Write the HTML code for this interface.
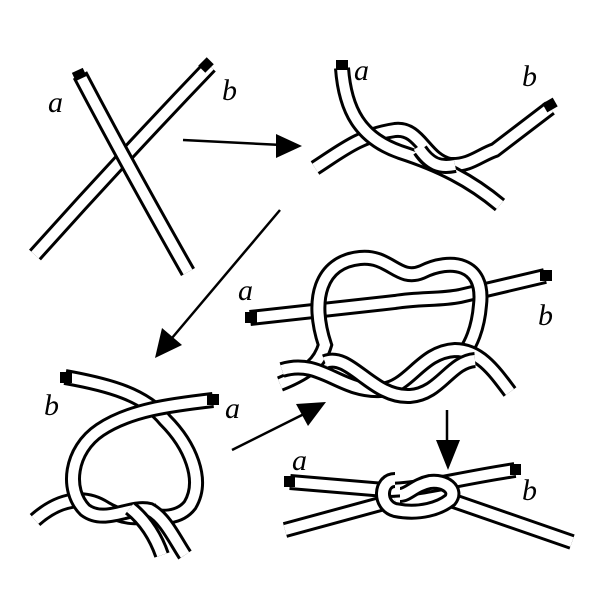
<!DOCTYPE html><html><head><style>body{margin:0;background:#fff}svg{display:block}
.o{fill:none;stroke:#000;stroke-width:16;stroke-linecap:butt}
.i{fill:none;stroke:#fff;stroke-width:10;stroke-linecap:butt}
.l{fill:none;stroke:#000;stroke-width:2.5}
text{font-family:"Liberation Serif",serif;font-style:italic;font-size:30px;fill:#000}
</style></head><body>
<svg width="600" height="600" viewBox="0 0 600 600">
<!-- panel 1 -->
<g>
<path class="o" d="M210,66 Q120,160 35,255"/><path class="i" d="M210,66 Q120,160 35,255"/>
<path class="o" d="M80,75 Q130,170 188,272"/><path class="i" d="M80,75 Q130,170 188,272"/>
<rect x="200" y="60" width="12" height="10" transform="rotate(-45 206 65)"/>
<rect x="73" y="70" width="12" height="9" transform="rotate(-25 79 74)"/>
<text x="48" y="112">a</text><text x="222" y="100">b</text>
</g>
<line class="l" x1="183" y1="140" x2="282" y2="145"/><polygon points="302,146 276,134 276,158"/>
<!-- panel 2 -->
<g>
<path class="o" d="M315,168 C340,152 360,135 395,130 C420,127 425,160 450,165 C470,166 480,155 495,150 L550,108"/><path class="i" d="M315,168 C340,152 360,135 395,130 C420,127 425,160 450,165 C470,166 480,155 495,150 L550,108"/>
<path class="o" d="M342,68 C345,110 360,138 400,152 C440,165 470,180 500,205"/><path class="i" d="M342,68 C345,110 360,138 400,152 C440,165 470,180 500,205"/>
<path class="o" d="M420,150 C430,165 440,168 455,165"/><path class="i" d="M418,147 C430,165 440,168 455,165"/>
<rect x="336" y="60" width="12" height="10"/><rect x="544" y="100" width="12" height="10" transform="rotate(-30 550 105)"/>
<text x="354" y="80">a</text><text x="522" y="86">b</text>
</g>
<line class="l" x1="280" y1="210" x2="172" y2="338"/><polygon points="155,358 162,328 182,345"/>
<!-- panel 3 -->
<g>
<path class="o" d="M250,318 L395,302 C420,298 440,300 460,296 L545,276"/><path class="i" d="M250,318 L395,302 C420,298 440,300 460,296 L545,276"/>
<path class="o" d="M280,384 C310,372 320,362 325,345 C310,300 320,262 360,258 C390,255 398,282 422,272 C450,258 485,262 480,305 C478,330 470,345 465,352"/><path class="i" d="M280,384 C310,372 320,362 325,345 C310,300 320,262 360,258 C390,255 398,282 422,272 C450,258 485,262 480,305 C478,330 470,345 465,352"/>
<path class="o" d="M282,370 C320,358 340,392 380,390 C410,388 420,352 455,350 C480,350 495,372 510,392"/><path class="i" d="M282,370 C320,358 340,392 380,390 C410,388 420,352 455,350 C480,350 495,372 510,392"/>
<path class="o" d="M325,362 C350,352 372,398 410,396 C440,394 450,362 475,360"/><path class="i" d="M325,362 C350,352 372,398 410,396 C440,394 450,362 475,360"/>
<rect x="245" y="312" width="12" height="11"/><rect x="540" y="270" width="12" height="11"/>
<text x="238" y="300">a</text><text x="538" y="325">b</text>
</g>
<!-- panel 4 -->
<g>
<path class="o" d="M65,377 C110,385 145,395 165,420 C190,445 205,480 190,505 C180,518 160,520 145,512"/><path class="i" d="M65,377 C110,385 145,395 165,420 C190,445 205,480 190,505 C180,518 160,520 145,512"/>
<path class="o" d="M35,520 C60,498 85,495 105,508 C125,520 145,520 160,510"/><path class="i" d="M35,520 C60,498 85,495 105,508 C125,520 145,520 160,510"/>
<path class="o" d="M213,400 C170,405 130,410 100,430 C70,450 65,490 85,510 C105,525 130,505 150,510 C165,518 175,540 185,555"/><path class="i" d="M213,400 C170,405 130,410 100,430 C70,450 65,490 85,510 C105,525 130,505 150,510 C165,518 175,540 185,555"/>
<path class="o" d="M130,508 C145,520 155,535 162,555"/><path class="i" d="M130,508 C145,520 155,535 162,555"/>
<rect x="60" y="372" width="12" height="11"/><rect x="207" y="394" width="12" height="11"/>
<text x="44" y="415">b</text><text x="225" y="418">a</text>
</g>
<line class="l" x1="232" y1="450" x2="306" y2="413"/><polygon points="326,402 296,404 308,426"/>
<line class="l" x1="447" y1="410" x2="447" y2="445"/><polygon points="436,440 460,440 448,470"/>
<!-- panel 5 -->
<g>
<path class="o" d="M285,530 L395,500"/><path class="i" d="M285,530 L395,500"/>
<path class="o" d="M445,498 L572,542"/><path class="i" d="M445,498 L572,542"/>
<path class="o" d="M290,482 L385,490 C420,490 450,480 515,470"/><path class="i" d="M290,482 L385,490 C420,490 450,480 515,470"/>
<path class="o" d="M395,480 C380,480 378,505 395,510 C420,515 440,508 450,500 C458,490 445,480 430,482 C415,485 408,495 400,495"/><path class="i" d="M395,480 C380,480 378,505 395,510 C420,515 440,508 450,500 C458,490 445,480 430,482 C415,485 408,495 400,495"/>
<rect x="284" y="476" width="11" height="11"/><rect x="510" y="464" width="11" height="11"/>
<text x="292" y="470">a</text><text x="522" y="500">b</text>
</g>
</svg>
</body></html>
